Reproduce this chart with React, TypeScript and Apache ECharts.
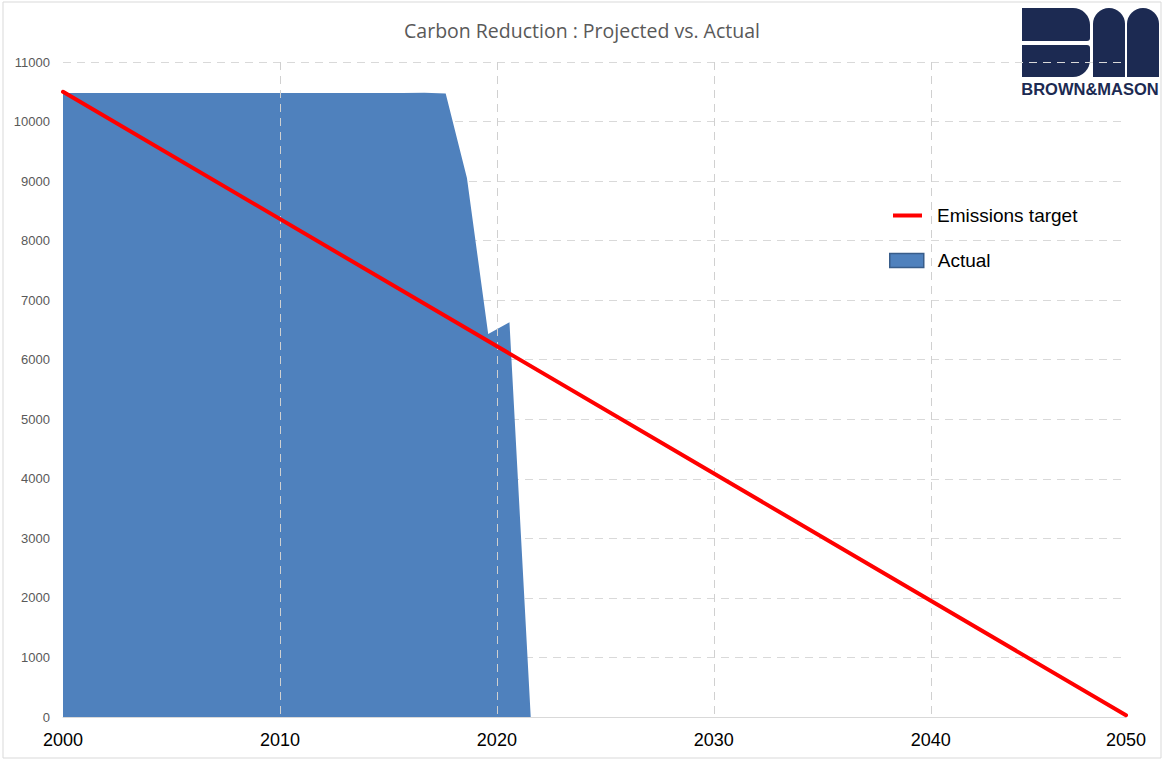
import React, { useEffect, useRef } from "react";
import * as echarts from "echarts";

const titleText = "Carbon Reduction : Projected vs. Actual";
// data axis: yearly points 2000..2050 across the plot
const targetYears = [2000, 2050];
const targetValues = [10500, 30];
const actualYears = [
  2000, 2001, 2002, 2003, 2004, 2005, 2006, 2007, 2008, 2009, 2010, 2011,
  2012, 2013, 2014, 2015, 2016, 2017, 2018, 2019, 2020, 2021, 2022,
];
const actualValues = [
  10480, 10480, 10480, 10480, 10480, 10480, 10480, 10480, 10480, 10480, 10480,
  10480, 10480, 10480, 10480, 10480, 10480, 10485, 10470, 9050, 6430, 6630, 0,
];
// label axis (as drawn in the original): ticks every 10, last label at the end
const xTickLabels = ["2000", "2010", "2020", "2030", "2040", "2050"];
const labelAxisMin = 2000;
const labelAxisMax = 2049;

export default function App() {
  const ref = useRef<HTMLDivElement>(null);
  useEffect(() => {
    document.body.style.margin = "0";
    const chart = echarts.init(ref.current!, null, { renderer: "svg" });
    const navy = "#1c2a52";
    const gridDash = { color: "#d9d9d9", type: [8, 6] as number[], width: 1 };
    chart.setOption({
      animation: false,
      backgroundColor: "#ffffff",
      title: {
        text: titleText,
        left: "center",
        top: 15,
        textStyle: {
          fontFamily: "Open Sans",
          fontSize: 19.5,
          fontWeight: "normal",
          color: "#595959",
        },
      },
      legend: [
        {
          orient: "vertical",
          left: 888,
          top: 201,
          itemWidth: 29,
          itemHeight: 4,
          icon: "rect",
          textStyle: {
            fontFamily: "Liberation Sans",
            fontSize: 19,
            color: "#000000",
            padding: [0, 0, 0, 10],
          },
          data: [{ name: "Emissions target", itemStyle: { color: "#FF0000" } }],
        },
        {
          orient: "vertical",
          left: 884,
          top: 246,
          itemWidth: 34,
          itemHeight: 14,
          icon: "rect",
          textStyle: {
            fontFamily: "Liberation Sans",
            fontSize: 19,
            color: "#000000",
            padding: [0, 0, 0, 9],
          },
          data: [
            {
              name: "Actual",
              itemStyle: { color: "#4F81BD", borderColor: "#385D8A", borderWidth: 1.5 },
            },
          ],
        },
      ],
      grid: { left: 63, right: 38, top: 62, bottom: 43 },
      xAxis: [
        {
          type: "value",
          min: 2000,
          max: 2050,
          show: false,
        },
        {
          type: "value",
          min: labelAxisMin,
          max: labelAxisMax,
          interval: 10,
          position: "bottom",
          z: 3,
          axisLine: { show: true, onZero: false, lineStyle: { color: "#d9d9d9", width: 1 } },
          axisTick: { show: false },
          splitLine: {
            show: true,
            showMinLine: false,
            showMaxLine: false,
            lineStyle: { ...gridDash, color: "#d0d0d0" },
          },
          axisLabel: {
            fontFamily: "Liberation Sans",
            fontSize: 18,
            color: "#000000",
            margin: 14,
            showMaxLabel: true,
            formatter: (_v: number, i: number) => xTickLabels[i] ?? "",
          },
        },
      ],
      yAxis: {
        type: "value",
        min: 0,
        max: 11000,
        interval: 1000,
        axisLine: { show: false },
        axisTick: { show: false },
        axisLabel: {
          fontFamily: "Liberation Sans",
          fontSize: 13,
          color: "#595959",
          margin: 13,
          formatter: (v: number) => String(v),
        },
        splitLine: { show: true, lineStyle: gridDash },
      },
      series: [
        {
          name: "Actual",
          type: "line",
          xAxisIndex: 0,
          z: 2,
          symbol: "none",
          data: actualYears.map((y, i) => [y, actualValues[i]]),
          lineStyle: { width: 0, color: "#4F81BD" },
          itemStyle: { color: "#4F81BD" },
          areaStyle: { color: "#4F81BD", opacity: 1 },
        },
        {
          name: "Emissions target",
          type: "line",
          xAxisIndex: 0,
          z: 4,
          symbol: "none",
          data: targetYears.map((y, i) => [y, targetValues[i]]),
          lineStyle: { width: 4, color: "#FF0000", cap: "round" },
          itemStyle: { color: "#FF0000" },
        },
      ],
      graphic: [
        {
          type: "rect",
          shape: { x: 3, y: 2, width: 1158, height: 756 },
          style: { fill: "none", stroke: "#d9d9d9", lineWidth: 1 },
          z: -1,
        },
        {
          type: "group",
          z: 10,
          children: [
            {
              type: "rect",
              shape: { x: 1022, y: 8, width: 68, height: 33, r: [0, 17, 3, 0] },
              style: { fill: navy },
            },
            {
              type: "rect",
              shape: { x: 1022, y: 45, width: 68, height: 32, r: [0, 3, 17, 0] },
              style: { fill: navy },
            },
            {
              type: "rect",
              shape: { x: 1093, y: 8, width: 32, height: 69, r: [16, 16, 0, 0] },
              style: { fill: navy },
            },
            {
              type: "rect",
              shape: { x: 1127, y: 8, width: 32, height: 69, r: [16, 16, 0, 0] },
              style: { fill: navy },
            },
            {
              type: "text",
              x: 1090,
              y: 89,
              style: {
                text: "BROWN&MASON",
                fontFamily: "Liberation Sans",
                fontWeight: "bold",
                fontSize: 16.5,
                fill: navy,
                align: "center",
                verticalAlign: "middle",
              },
            },
          ],
        },
      ],
    });
    return () => chart.dispose();
  }, []);
  return <div ref={ref} style={{ width: 1164, height: 760 }} />;
}
